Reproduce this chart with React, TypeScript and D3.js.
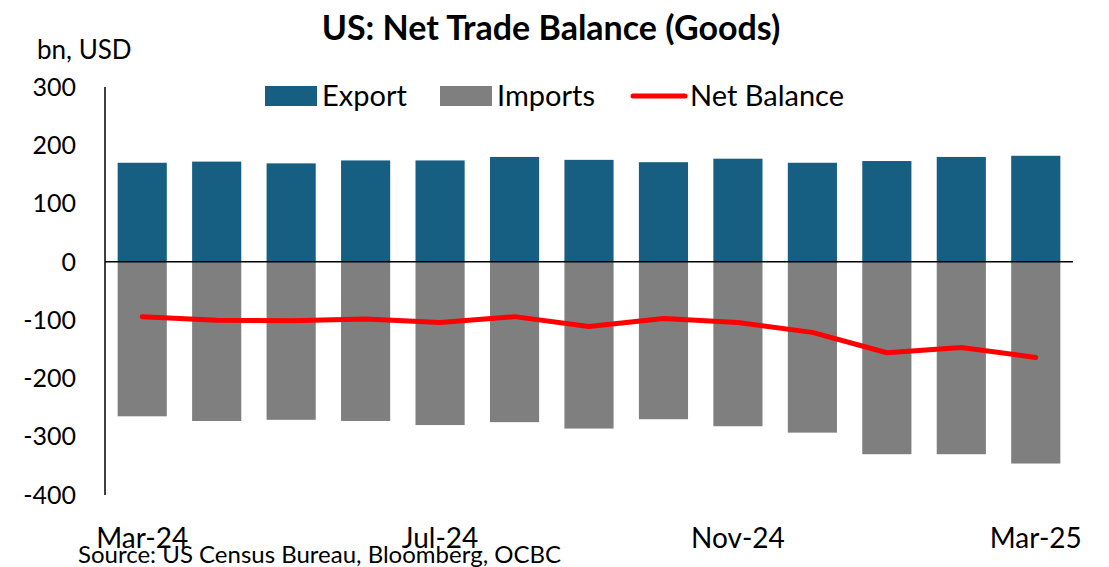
import React, { useEffect, useRef } from "react"
import * as d3 from "d3"

const months = ["Mar-24", "Apr-24", "May-24", "Jun-24", "Jul-24", "Aug-24", "Sep-24", "Oct-24", "Nov-24", "Dec-24", "Jan-25", "Feb-25", "Mar-25"]
const exportsBn = [170, 172, 169, 174, 174, 180, 175, 171, 177, 170, 173, 180, 182]
const importsBn = [-265, -273, -271, -273, -280, -275, -286, -270, -282, -293, -330, -330, -346]
const netBalance = [-94, -100, -101, -98, -104, -94, -111, -97, -104, -121, -156, -147, -164]
const yTicks = [300, 200, 100, 0, -100, -200, -300, -400]
const xLabels = ["Mar-24", "Jul-24", "Nov-24", "Mar-25"]

const FONT = "Lato, 'Open Sans', sans-serif"

export default function App() {
    const ref = useRef<SVGSVGElement>(null)

    useEffect(() => {
        const svg = d3.select(ref.current)
        svg.selectAll("*").remove()

        const left = 105
        const right = 1073
        const top = 87
        const bottom = 495

        const x = d3.scaleBand().domain(months).range([left, right]).paddingInner(0.34).paddingOuter(0.17)
        const y = d3.scaleLinear().domain([-400, 300]).range([bottom, top])

        svg.append("text")
            .attr("x", 551).attr("y", 40)
            .attr("text-anchor", "middle")
            .attr("font-family", FONT).attr("font-weight", "bold").attr("font-size", 34)
            .text("US: Net Trade Balance (Goods)")

        svg.append("text")
            .attr("x", 37).attr("y", 59)
            .attr("font-family", FONT).attr("font-size", 26)
            .text("bn, USD")

        // bars
        svg.append("g").selectAll("rect")
            .data(exportsBn)
            .enter().append("rect")
            .attr("x", (d, i) => x(months[i])!)
            .attr("width", x.bandwidth())
            .attr("y", d => y(d))
            .attr("height", d => y(0) - y(d))
            .attr("fill", "#175F82")

        svg.append("g").selectAll("rect")
            .data(importsBn)
            .enter().append("rect")
            .attr("x", (d, i) => x(months[i])!)
            .attr("width", x.bandwidth())
            .attr("y", y(0))
            .attr("height", d => y(d) - y(0))
            .attr("fill", "#7F7F7F")

        // axes
        svg.append("line")
            .attr("x1", left).attr("x2", left)
            .attr("y1", top).attr("y2", bottom)
            .attr("stroke", "#000").attr("stroke-width", 1.5)

        svg.append("line")
            .attr("x1", left).attr("x2", right)
            .attr("y1", y(0)).attr("y2", y(0))
            .attr("stroke", "#000").attr("stroke-width", 1.5)

        svg.append("g").selectAll("text")
            .data(yTicks)
            .enter().append("text")
            .attr("x", 76)
            .attr("y", d => y(d))
            .attr("dy", "0.35em")
            .attr("text-anchor", "end")
            .attr("font-family", FONT).attr("font-size", 25)
            .text(d => d)

        svg.append("g").selectAll("text")
            .data(xLabels)
            .enter().append("text")
            .attr("x", d => x(d)! + x.bandwidth() / 2)
            .attr("y", 548)
            .attr("text-anchor", "middle")
            .attr("font-family", FONT).attr("font-size", 28)
            .text(d => d)

        // net balance line
        const line = d3.line<number>()
            .x((d, i) => x(months[i])! + x.bandwidth() / 2)
            .y(d => y(d))

        svg.append("path")
            .datum(netBalance)
            .attr("fill", "none")
            .attr("stroke", "#FF0000")
            .attr("stroke-width", 5)
            .attr("stroke-linejoin", "round")
            .attr("stroke-linecap", "round")
            .attr("d", line)

        // legend
        const legend = svg.append("g").attr("font-family", FONT).attr("font-size", 29)
        legend.append("rect").attr("x", 265).attr("y", 86).attr("width", 52).attr("height", 20).attr("fill", "#175F82")
        legend.append("text").attr("x", 322).attr("y", 106).text("Export")
        legend.append("rect").attr("x", 440).attr("y", 86).attr("width", 52).attr("height", 20).attr("fill", "#7F7F7F")
        legend.append("text").attr("x", 497).attr("y", 106).text("Imports")
        legend.append("line").attr("x1", 633).attr("x2", 685).attr("y1", 96).attr("y2", 96)
            .attr("stroke", "#FF0000").attr("stroke-width", 5).attr("stroke-linecap", "round")
        legend.append("text").attr("x", 690).attr("y", 106).text("Net Balance")

        svg.append("text")
            .attr("x", 78).attr("y", 563)
            .attr("font-family", FONT).attr("font-size", 24)
            .text("Source: US Census Bureau, Bloomberg, OCBC")
    }, [])

    return (
        <svg ref={ref} width={1109} height={567}
            style={{ position: "absolute", left: 0, top: 0, background: "#fff" }} />
    )
}
